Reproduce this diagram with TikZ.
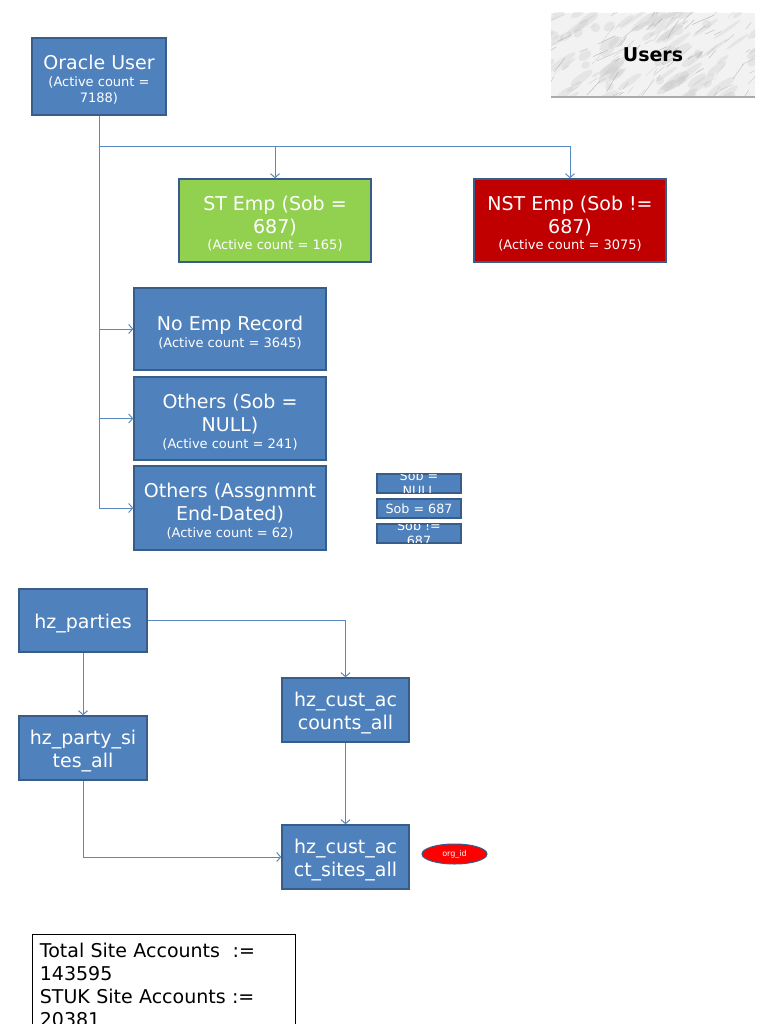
\documentclass[tikz,border=0pt]{standalone}
\usepackage{fontspec}
\setmainfont{DejaVu Sans}
\usetikzlibrary{arrows.meta,shapes.geometric}
\definecolor{boxblue}{HTML}{4F81BD}
\definecolor{boxedge}{HTML}{385D8A}
\definecolor{stgreen}{HTML}{92D050}
\definecolor{nstred}{HTML}{C00000}
\definecolor{linecol}{HTML}{5A88C0}
\definecolor{marble}{HTML}{F2F2F2}
\newcommand{\bigtxt}{\fontsize{19}{23}\selectfont}
\newcommand{\smtxt}{\fontsize{13}{16}\selectfont}
\newcommand{\htfix}{\rule{0pt}{21pt}}
\begin{document}
\begin{tikzpicture}[x=1pt,y=-1pt,
  box/.style={draw=boxedge, fill=boxblue, line width=1.3pt, text=white, align=center, inner sep=0pt, font=\bigtxt},
  conn/.style={draw=linecol, line width=1pt, -{Straight Barb[length=4pt,width=9pt]}},
  smallbox/.style={draw=boxedge, fill=boxblue, line width=1.2pt, inner sep=0pt,
    minimum width=84pt, minimum height=19pt},
  legtext/.style={text=white, align=center, inner sep=0pt, font=\fontsize{12.7}{15}\selectfont},
  smalledge/.style={draw=boxedge, line width=1.2pt}]
\useasboundingbox (0,0) rectangle (768,1024);
\clip (0,0) rectangle (768,1024);

% Users title box with marble texture
\node[fill=marble, minimum width=204pt, minimum height=84pt, inner sep=0pt] (ub) at (653,55) {};
\begin{scope}
  \clip (ub.south west) rectangle (ub.north east);
  \pgfmathsetseed{11}
  \foreach \i in {1,...,90}{
    \pgfmathsetmacro{\xa}{540+rnd*225}
    \pgfmathsetmacro{\ya}{8+rnd*95}
    \pgfmathsetmacro{\rw}{4+rnd*14}
    \pgfmathsetmacro{\rh}{1.5+rnd*4}
    \fill[black!22, opacity=0.3, rotate around={35:(\xa,\ya)}] (\xa,\ya) ellipse[x radius=\rw, y radius=\rh];
  }
  \foreach \i in {1,...,120}{
    \pgfmathsetmacro{\xa}{540+rnd*225}
    \pgfmathsetmacro{\ya}{8+rnd*95}
    \pgfmathsetmacro{\ang}{-60+rnd*40}
    \pgfmathsetmacro{\len}{4+rnd*20}
    \pgfmathsetmacro{\shade}{18+rnd*30}
    \pgfmathsetmacro{\bend}{-6+rnd*12}
    \draw[black!\shade, line width=0.45pt, opacity=0.55, line cap=round]
      (\xa,\ya) .. controls ++(\ang+\bend:\len/2) .. ++(\ang:\len);
  }
\end{scope}
\draw[black!33, line width=2.5pt] (ub.south west) -- (ub.south east);
\node[font=\bfseries\fontsize{19}{23}\selectfont] (users) at (ub.center) {Users};

% Oracle user hierarchy
\node[box, minimum width=134pt, minimum height=77pt] (ou) at (99,76.5)
  {\htfix Oracle User\\[-6pt]{\smtxt (Active count =}\\[-7pt]{\smtxt 7188)}};
\node[box, fill=stgreen, minimum width=192pt, minimum height=83pt] (st) at (275,220.5)
  {\htfix ST Emp (Sob =\\687)\\[-7pt]{\smtxt (Active count = 165)}};
\node[box, fill=nstred, minimum width=192pt, minimum height=83pt] (nst) at (570,220.5)
  {\htfix NST Emp (Sob !=\\687)\\[-7pt]{\smtxt (Active count = 3075)}};
\node[box, minimum width=192pt, minimum height=82pt] (noemp) at (230,329)
  {\htfix No Emp Record\\[-6pt]{\smtxt (Active count = 3645)}};
\node[box, minimum width=192pt, minimum height=83pt] (onull) at (230,418.5)
  {\htfix Others (Sob =\\NULL)\\[-6pt]{\smtxt (Active count = 241)}};
\node[box, minimum width=192pt, minimum height=84pt] (oend) at (230,508)
  {\htfix Others (Assgnmnt\\End-Dated)\\[-6pt]{\smtxt (Active count = 62)}};

\coordinate (bus) at (99,147);
\draw[conn] (ou.south) -- (bus) -| (st.north);
\draw[conn] (ou.south) -- (bus) -| (nst.north);
\draw[conn] (ou.south) |- (noemp.west);
\draw[conn] (ou.south) |- (onull.west);
\draw[conn] (ou.south) |- (oend.west);

% legend boxes (text is cut by the box edges)
\node[smallbox] (lnull) at (419,483.5) {};
\node[smallbox] (l687) at (419,508.5) {};
\node[smallbox] (lnot) at (419,533.5) {};
\node[legtext] (lnullt) at (lnull.center) {Sob =\\NULL};
\node[legtext] (l687t) at (l687.center) {Sob = 687};
\node[legtext] (lnott) at (lnot.center) {Sob !=\\687};
\draw[smalledge] (lnull.south west) rectangle (lnull.north east);
\draw[smalledge] (lnot.south west) rectangle (lnot.north east);

% hz tables
\node[box, minimum width=128pt, minimum height=63pt] (hzp) at (83,620.5) {\htfix hz\_parties};
\node[box, minimum width=128pt, minimum height=64pt] (hps) at (83,748) {\htfix hz\_party\_si\\tes\_all};
\node[box, minimum width=127pt, minimum height=64pt] (hca) at (345.5,710) {\htfix hz\_cust\_ac\\counts\_all};
\node[box, minimum width=127pt, minimum height=64pt] (hcas) at (345.5,857) {\htfix hz\_cust\_ac\\ct\_sites\_all};
\node[ellipse, draw=boxedge, line width=1pt, fill=red, minimum width=65pt, minimum height=20pt, inner sep=0pt,
  text=white, font=\fontsize{8}{9}\selectfont] (org) at (454.5,854) {org\_id};

\draw[conn] (hzp.east) -| (hca.north);
\draw[conn] (hzp.south) -- (hps.north);
\draw[conn] (hps.south) |- (hcas.west);
\draw[conn] (hca.south) -- (hcas.north);

% totals text box
\node[draw=black, line width=0.8pt, fill=white, anchor=north west, align=left, inner xsep=7.5pt, inner ysep=9pt,
  text width=248pt, font=\fontsize{19}{23}\selectfont] (tot) at (32,934)
  {Total Site Accounts\ \ :=\\143595\\STUK Site Accounts :=\\20381};
\end{tikzpicture}
\end{document}
